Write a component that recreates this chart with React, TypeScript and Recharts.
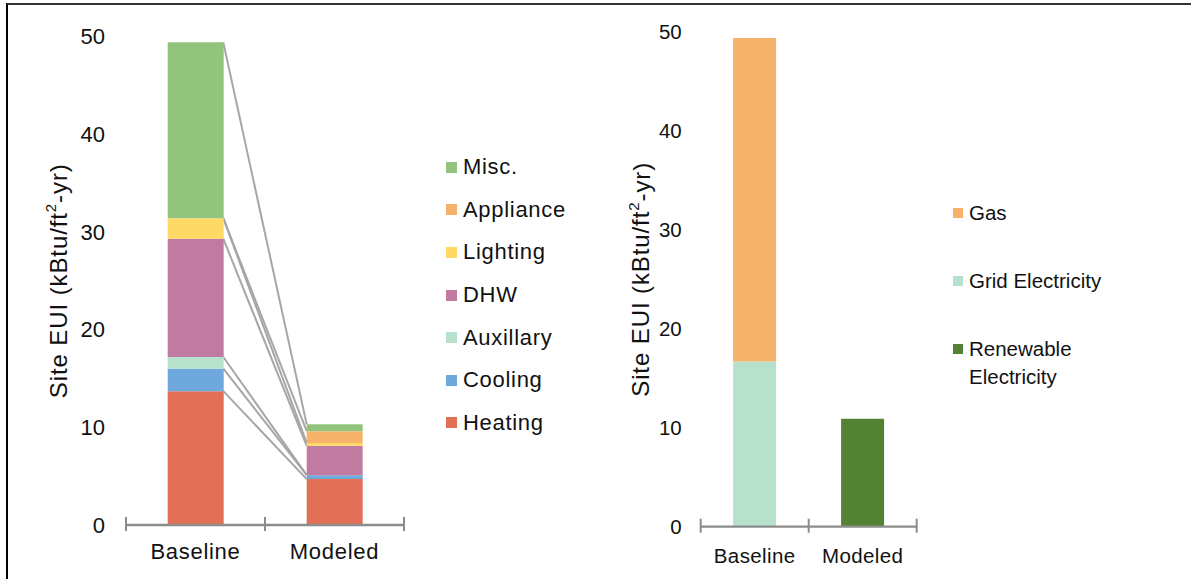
import React from 'react';
import {
  ComposedChart,
  Bar,
  XAxis,
  YAxis,
  Legend,
  useXAxisScale,
  useYAxisScale,
} from 'recharts';

// Scenarios on the category axis
const scenarios = ['Baseline', 'Modeled'];

// End-use site EUI breakdown (kBtu/ft²-yr)
const heating = [13.7, 4.7];
const cooling = [2.3, 0.4];
const auxillary = [1.2, 0];
const dhw = [12.1, 3.0];
const lighting = [2.1, 0.3];
const appliance = [0, 1.2];
const misc = [18.0, 0.7];

// Fuel breakdown (kBtu/ft²-yr)
const renewableElectricity = [0, 10.9];
const gridElectricity = [16.7, 0];
const gas = [32.7, 0];

const yTicks = [0, 10, 20, 30, 40, 50];

const endUseRows = scenarios.map((scenario, i) => ({
  scenario,
  Heating: heating[i],
  Cooling: cooling[i],
  Auxillary: auxillary[i],
  DHW: dhw[i],
  Lighting: lighting[i],
  Appliance: appliance[i],
  'Misc.': misc[i],
}));

const fuelRows = scenarios.map((scenario, i) => ({
  scenario,
  'Renewable Electricity': renewableElectricity[i],
  'Grid Electricity': gridElectricity[i],
  Gas: gas[i],
}));

const endUseSeries = [
  { key: 'Heating', color: '#E17056' },
  { key: 'Cooling', color: '#6FA8DC' },
  { key: 'Auxillary', color: '#B7E1CD' },
  { key: 'DHW', color: '#C27BA0' },
  { key: 'Lighting', color: '#FFD966' },
  { key: 'Appliance', color: '#F6B26B' },
  { key: 'Misc.', color: '#93C47D' },
];

const fuelSeries = [
  { key: 'Renewable Electricity', color: '#548235' },
  { key: 'Grid Electricity', color: '#B7E1CD' },
  { key: 'Gas', color: '#F6B26B' },
];

const FONT = '"Liberation Sans", Arial, sans-serif';
const TEXT = '#111';
const AXIS = '#8C8C8C';
const GAP = 0.3; // bar category gap on each side of a bar

// Excel-style series lines joining the top of each stacked segment,
// from the right edge of the first bar to the left edge of the second.
function SeriesLines({ rows, keys }: any) {
  const xScale: any = useXAxisScale();
  const yScale: any = useYAxisScale();
  if (!xScale || !yScale) return null;
  const start0 = xScale(rows[0].scenario);
  const start1 = xScale(rows[1].scenario);
  const step = typeof xScale.bandwidth === 'function' ? xScale.bandwidth() : start1 - start0;
  const x1 = start0 + step * (1 - GAP);
  const x2 = start1 + step * GAP;
  let c0 = 0;
  let c1 = 0;
  return (
    <g>
      {keys.map((k: string) => {
        c0 += rows[0][k];
        c1 += rows[1][k];
        return (
          <line key={k} x1={x1} y1={yScale(c0)} x2={x2} y2={yScale(c1)} stroke="#A6A6A6" strokeWidth={2} />
        );
      })}
    </g>
  );
}

// Category label plus Excel-style tick marks that cross the axis between categories
function CategoryTick(props: any) {
  const { x, y, payload, index, visibleTicksCount, margin, below, fontSize, spacing } = props;
  const axisY = y - margin;
  const half = payload && payload.offset != null ? payload.offset : 0;
  const marks = [x - half];
  if (index === visibleTicksCount - 1) marks.push(x + half);
  return (
    <g>
      {marks.map((mx, i) => (
        <line key={i} x1={mx} x2={mx} y1={axisY - 8} y2={axisY + 6} stroke={AXIS} strokeWidth={2} />
      ))}
      <text
        x={x}
        y={axisY + below}
        textAnchor="middle"
        fontFamily={FONT}
        fontSize={fontSize}
        letterSpacing={spacing}
        fill={TEXT}
      >
        {payload.value}
      </text>
    </g>
  );
}

function AxisTitle({ viewBox, dx }: any) {
  const cx = viewBox.x + dx;
  const cy = viewBox.y + viewBox.height / 2;
  return (
    <text
      transform={`rotate(-90 ${cx} ${cy})`}
      x={cx}
      y={cy}
      textAnchor="middle"
      dominantBaseline="central"
      fontFamily={FONT}
      fontSize={24}
      letterSpacing={0.9}
      fill={TEXT}
    >
      Site EUI (kBtu/ft
      <tspan dy={-8} fontSize={15}>2</tspan>
      <tspan dy={8}>-yr)</tspan>
    </text>
  );
}

function EndUseLegend() {
  const items = [...endUseSeries].reverse();
  return (
    <div style={{ fontFamily: FONT, fontSize: 22, letterSpacing: 0.7, color: TEXT }}>
      {items.map((it) => (
        <div key={it.key} style={{ display: 'flex', alignItems: 'center', height: 42.6 }}>
          <span style={{ width: 11, height: 11, background: it.color, marginRight: 6, flex: 'none' }} />
          <span>{it.key}</span>
        </div>
      ))}
    </div>
  );
}

function FuelLegend() {
  const items = [...fuelSeries].reverse();
  return (
    <div style={{ fontFamily: FONT, fontSize: 20.5, color: TEXT, lineHeight: '28px' }}>
      {items.map((it, i) => (
        <div key={it.key} style={{ display: 'flex', alignItems: 'flex-start', marginTop: i === 0 ? 0 : 40.3 }}>
          <span style={{ width: 10, height: 10, background: it.color, marginRight: 6, marginTop: 9, flex: 'none' }} />
          <span style={{ width: 160 }}>{it.key}</span>
        </div>
      ))}
    </div>
  );
}

export default function App() {
  return (
    <div style={{ position: 'absolute', left: 0, top: 0, width: 1191, height: 579, background: '#fff', overflow: 'hidden' }}>
      <div style={{ position: 'absolute', left: 0, top: 0 }}>
        <ComposedChart width={600} height={579} data={endUseRows} margin={{ top: 36.5, right: 196, bottom: 0, left: 0 }} barCategoryGap={`${GAP * 100}%`}>
          <XAxis
            dataKey="scenario"
            height={54}
            axisLine={{ stroke: AXIS, strokeWidth: 2.3 }}
            tickLine={false}
            tickSize={0}
            tickMargin={10}
            tick={<CategoryTick margin={10} below={34} fontSize={22} spacing={0.7} />}
          />
          <YAxis
            width={126}
            domain={[0, 50]}
            ticks={yTicks}
            axisLine={false}
            tickLine={false}
            tickSize={0}
            tickMargin={21}
            tick={{ fontFamily: FONT, fontSize: 22, fill: TEXT }}
            label={(p: any) => <AxisTitle {...p} dx={58} />}
          />
          {endUseSeries.map((s) => (
            <Bar key={s.key} dataKey={s.key} stackId="eui" fill={s.color} isAnimationActive={false} />
          ))}
          <SeriesLines rows={endUseRows} keys={endUseSeries.map((s) => s.key)} />
          <Legend
            layout="horizontal"
            verticalAlign="middle"
            align="center"
            wrapperStyle={{ left: 446, top: 146, width: 150 }}
            content={<EndUseLegend />}
          />
        </ComposedChart>
      </div>
      <div style={{ position: 'absolute', left: 600, top: 0 }}>
        <ComposedChart width={591} height={579} data={fuelRows} margin={{ top: 32, right: 274.3, bottom: 0, left: 0 }} barCategoryGap={`${GAP * 100}%`}>
          <XAxis
            dataKey="scenario"
            height={52.3}
            axisLine={{ stroke: AXIS, strokeWidth: 2.3 }}
            tickLine={false}
            tickSize={0}
            tickMargin={10}
            tick={<CategoryTick margin={10} below={36.5} fontSize={20.5} spacing={0.4} />}
          />
          <YAxis
            width={100.7}
            domain={[0, 50]}
            ticks={yTicks}
            axisLine={false}
            tickLine={false}
            tickSize={0}
            tickMargin={19}
            tick={{ fontFamily: FONT, fontSize: 20.5, fill: TEXT }}
            label={(p: any) => <AxisTitle {...p} dx={41} />}
          />
          {fuelSeries.map((s) => (
            <Bar key={s.key} dataKey={s.key} stackId="fuel" fill={s.color} isAnimationActive={false} />
          ))}
          <Legend
            layout="horizontal"
            verticalAlign="middle"
            align="center"
            wrapperStyle={{ left: 353, top: 198.5, width: 230 }}
            content={<FuelLegend />}
          />
        </ComposedChart>
      </div>
      <div style={{ position: 'absolute', left: 5.5, top: 3.3, right: 0, bottom: 0, borderTop: '2px solid #333', borderLeft: '2.5px solid #000', pointerEvents: 'none' }} />
    </div>
  );
}
